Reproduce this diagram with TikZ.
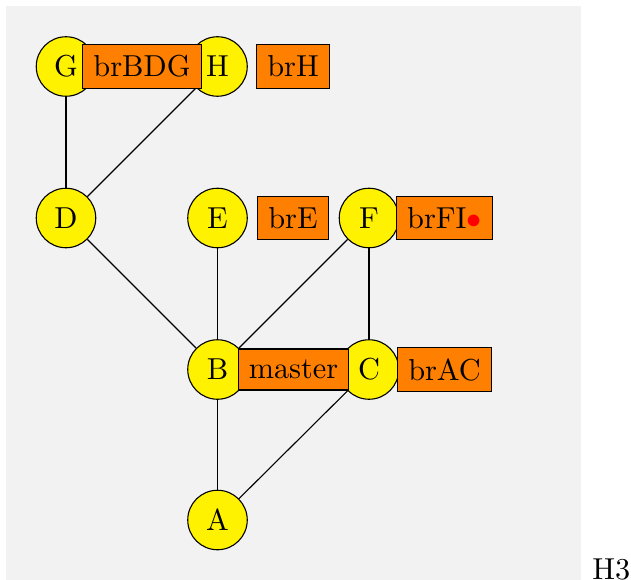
\documentclass[tikz,border=0pt]{standalone}
\newcommand{\sx}[1]{\scalebox{3.03}{#1}}
\begin{document}
\begin{tikzpicture}[x=1pt,y=-1pt,
  every node/.style={font=\fontsize{10}{12}\selectfont},
  commit/.style={circle,draw=black,fill=yellow,line width=1.1pt,minimum size=59.5pt,inner sep=0pt},
  branch/.style={rectangle,draw=black,fill=orange,line width=1.1pt,inner xsep=10.5pt,inner ysep=11pt},
  edge/.style={draw=black,line width=1.1pt}]
\useasboundingbox (0,0) rectangle (631,580);
\fill[gray!10] (6,6) rectangle (581,580);
\node[commit] (G) at (66,66.5) {\sx{G}};
\node[commit] (H) at (217.5,66.5) {\sx{H}};
\node[commit] (D) at (66,218) {\sx{D}};
\node[commit] (E) at (217.5,218) {\sx{E}};
\node[commit] (F) at (369,218) {\sx{F}};
\node[commit] (B) at (217.5,369.5) {\sx{B}};
\node[commit] (C) at (369,369.5) {\sx{C}};
\node[commit] (A) at (217.5,520) {\sx{A}};
\draw[edge] (G) -- (D);
\draw[edge] (H) -- (D);
\draw[edge] (D) -- (B);
\draw[edge] (E) -- (B);
\draw[edge] (F) -- (B);
\draw[edge] (F) -- (C);
\draw[edge] (B) -- (A);
\draw[edge] (C) -- (A);
\node[branch] (brBDG) at (142,66.5) {\sx{brBDG}};
\node[branch] (brH) at (293,66.5) {\sx{brH}};
\node[branch] (brE) at (293,218) {\sx{brE}};
\node[branch] (brFI) at (444.5,218) {\sx{brFI\textcolor{red}{$\bullet$}}};
\node[branch] (master) at (293.5,369.5) {\sx{master}};
\node[branch] (brAC) at (444.5,369.5) {\sx{brAC}};
\node[anchor=south east,inner sep=0pt] (h3) at (630.5,580) {\sx{H3}};
\end{tikzpicture}
\end{document}
